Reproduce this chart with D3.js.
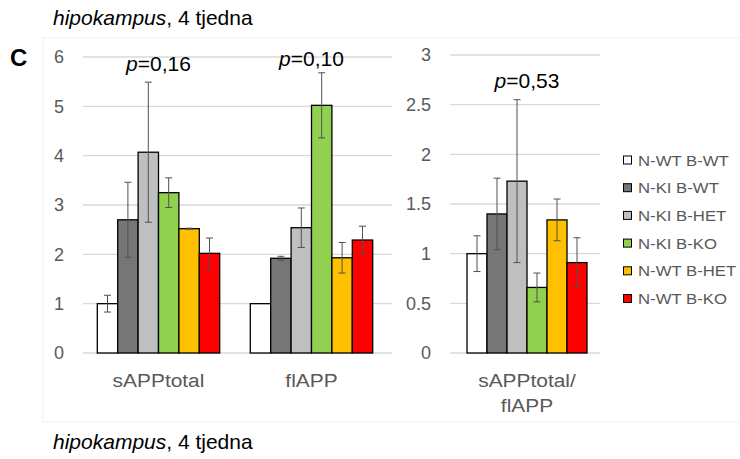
<!DOCTYPE html>
<html><head><meta charset="utf-8">
<script src="https://cdn.jsdelivr.net/npm/d3@7"></script>
<style>body{margin:0;background:#fff}svg{display:block;font-family:"Liberation Sans",Arial,sans-serif}</style>
</head><body><svg id="c" width="740" height="459"></svg>
<script>
const series = ["N-WT B-WT","N-KI B-WT","N-KI B-HET","N-KI B-KO","N-WT B-HET","N-WT B-KO"];
const colors = ["#ffffff","#767676","#bfbfbf","#92d050","#ffc000","#ff0000"];
const leftCats = ["sAPPtotal","flAPP"];
const leftValues = [
  [1.00, 2.70, 4.07, 3.25, 2.52, 2.02],
  [1.00, 1.92, 2.54, 5.02, 1.93, 2.29]
];
const leftErrors = [
  [0.17, 0.76, 1.42, 0.30, 0.01, 0.31],
  [0.00, 0.04, 0.40, 0.66, 0.31, 0.28]
];
const rightCats = ["sAPPtotal/flAPP"];
const rightValues = [[1.00, 1.40, 1.73, 0.66, 1.34, 0.91]];
const rightErrors = [[0.18, 0.36, 0.82, 0.145, 0.21, 0.25]];
const leftTicks = [0,1,2,3,4,5,6];
const rightTicks = [0,0.5,1,1.5,2,2.5,3];
const leftP = ["p=0,16","p=0,10"];
const rightP = ["p=0,53"];
const title = "hipokampus";
const titleRest = ", 4 tjedna";

const svg = d3.select("#c");
const gridC = "#d9d9d9", labC = "#595959";

// faint panel
svg.append("rect").attr("x",43).attr("y",38).attr("width",720).attr("height",384)
  .attr("fill","none").attr("stroke","#f0f0f0").attr("stroke-width",1);

function addTitle(y){
  const t = svg.append("text").attr("x",53).attr("y",y).attr("font-size",21).attr("fill","#000");
  t.append("tspan").attr("font-style","italic").text(title);
  t.append("tspan").text(titleRest);
}
addTitle(25);
addTitle(449);
svg.append("text").attr("x",10).attr("y",66).attr("font-size",24).attr("font-weight","bold").text("C");

function panel(cats, values, errors, ticks, yMax, gx0, gx1, x0, x1, yTop, labelX, pTexts, pY, catLines){
  const y = d3.scaleLinear().domain([0,yMax]).range([353,yTop]);
  const x = d3.scalePoint().domain(cats).range([x0,x1]).padding(0.5);
  const step = x.step();
  const inner = d3.scaleBand().domain(series).range([-step*0.4, step*0.4]);
  const g = svg.append("g");
  g.selectAll("line.grid").data(ticks).join("line")
    .attr("x1",gx0).attr("x2",gx1).attr("y1",d=>y(d)).attr("y2",d=>y(d))
    .attr("stroke",gridC).attr("stroke-width",1.3);
  g.selectAll("text.tick").data(ticks).join("text")
    .attr("x",labelX).attr("y",d=>y(d)).attr("dy","0.36em").attr("text-anchor","end")
    .attr("font-size",18).attr("fill",labC).text(d=>String(d));
  cats.forEach((c,ci)=>{
    const cg = g.append("g").attr("transform",`translate(${x(c)},0)`);
    cg.selectAll("rect").data(series).join("rect")
      .attr("x",s=>inner(s)).attr("width",inner.bandwidth())
      .attr("y",(s,i)=>y(values[ci][i])).attr("height",(s,i)=>y(0)-y(values[ci][i]))
      .attr("fill",(s,i)=>colors[i]).attr("stroke","#000").attr("stroke-width",1.3);
    series.forEach((s,i)=>{
      const e = errors[ci][i]; if(!e) return;
      const cx = inner(s)+inner.bandwidth()/2, v = values[ci][i];
      const ec = "#505050";
      cg.append("line").attr("x1",cx).attr("x2",cx).attr("y1",y(v+e)).attr("y2",y(v-e)).attr("stroke",ec).attr("stroke-width",1);
      [v+e,v-e].forEach(t=>cg.append("line").attr("x1",cx-3.5).attr("x2",cx+3.5).attr("y1",y(t)).attr("y2",y(t)).attr("stroke",ec).attr("stroke-width",1));
    });
    const pt = svg.append("text").attr("x",x(c)).attr("y",pY[ci]).attr("text-anchor","middle").attr("font-size",21).attr("fill","#000");
    const m = pTexts[ci].match(/^p(.*)$/);
    pt.append("tspan").attr("font-style","italic").text("p");
    pt.append("tspan").text(m[1]);
    catLines[ci].forEach((ln,li)=>{
      svg.append("text").attr("transform",`translate(${x(c)},${387+li*25}) scale(1.1,1)`)
        .attr("text-anchor","middle").attr("font-size",19).attr("fill",labC).text(ln);
    });
  });
}
panel(leftCats, leftValues, leftErrors, leftTicks, 6, 83, 392, 82, 388, 57, 64, leftP, [71,66], [["sAPPtotal"],["flAPP"]]);
panel(rightCats, rightValues, rightErrors, rightTicks, 3, 450, 600, 452, 602, 55, 431, rightP, [88], [["sAPPtotal/","flAPP"]]);

// legend
const lg = svg.append("g");
series.forEach((s,i)=>{
  const cy = 160 + i*27.7;
  lg.append("rect").attr("x",623.5).attr("y",cy-4).attr("width",8).attr("height",8)
    .attr("fill",colors[i]).attr("stroke","#000").attr("stroke-width",1);
  lg.append("text").attr("transform",`translate(638,${cy}) scale(1.08,1)`).attr("dy","0.36em")
    .attr("font-size",15.5).attr("fill",labC).text(s);
});
</script></body></html>
